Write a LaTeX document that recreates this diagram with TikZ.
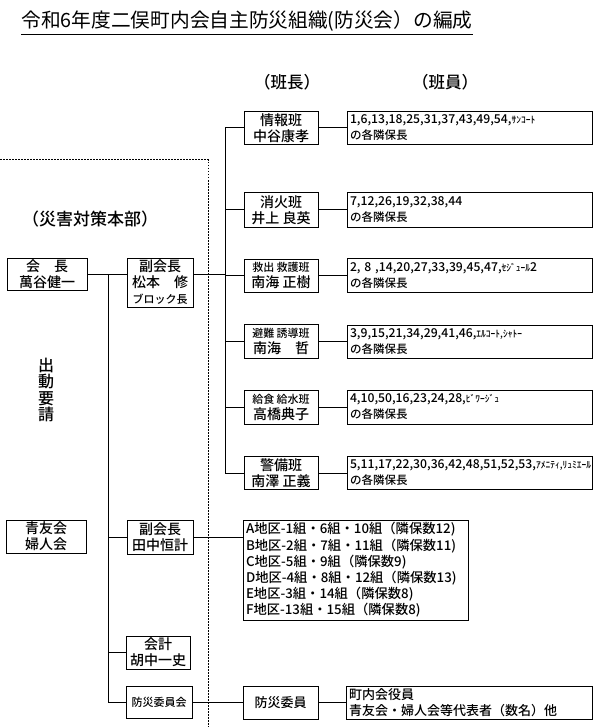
\documentclass[tikz,border=0pt]{standalone}
\usepackage{fontspec}
\newfontfamily\jp{Noto Sans CJK JP}[BoldFont={Noto Sans CJK JP Medium}]
\newcommand{\smtxt}{\fontsize{11}{16}\selectfont}
\newcommand{\numtxt}{\fontsize{12.2}{16}\selectfont}
\newcommand{\kanatxt}{\fontsize{9.5}{16}\selectfont}
\tikzset{
  hbox/.style={draw, line width=1pt, inner sep=0pt, align=center, minimum width=74pt, minimum height=33pt, font=\jp\bfseries\fontsize{14}{16}\selectfont},
  mbox/.style={draw, line width=1pt, inner xsep=3pt, inner ysep=0pt, align=left, text width=239pt, minimum height=33pt, font=\jp\bfseries\fontsize{11.5}{16}\selectfont},
  lbl/.style={inner sep=0pt, font=\jp\bfseries\fontsize{16.5}{18}\selectfont},
  conn/.style={line width=1pt},
}
\begin{document}
\begin{tikzpicture}[x=1pt,y=-1pt]
\useasboundingbox (0,0) rectangle (600,727);
\node[inner sep=0pt, font=\jp\fontsize{19.7}{22}\selectfont] (title) at (247,21) {令和6年度二俣町内会自主防災組織(防災会）の編成};
\draw[line width=0.8pt] ([yshift=-3pt]title.south west) -- ([yshift=-3pt]title.south east);
\node[lbl] (hancho) at (287,82) {（班長）};
\node[lbl] (hanin) at (445,82) {（班員）};
\node[lbl, font=\jp\bfseries\fontsize{17}{19}\selectfont] (honbu) at (90,219) {（災害対策本部）};
\node[lbl, align=center, font=\jp\bfseries\fontsize{16}{16.5}\selectfont] (yosei) at (46,390) {出\\動\\要\\請};
\draw[line width=1pt, dash pattern=on 1.5pt off 1.5pt] (0,160) -- (208,160) -- (208,727);

\node[hbox] (joho) at (281,128) {情報班\\中谷康孝};
\node[hbox, minimum height=34pt] (shoka) at (281,210) {消火班\\井上 良英};
\node[hbox] (kyushutsu) at (281,275.5) {{\smtxt 救出 救護班}\\南海 正樹};
\node[hbox, minimum height=34pt] (hinan) at (281,341.5) {{\smtxt 避難 誘導班}\\南海　哲};
\node[hbox, minimum height=34pt] (kyushoku) at (281,407) {{\smtxt 給食 給水班}\\高橋典子};
\node[hbox] (keibi) at (281,473) {警備班\\南澤 正義};

\node[mbox] (joho-m) at (469.5,128) {{\numtxt 1,6,13,18,25,31,37,43,49,54,}{\kanatxt ｻﾝｺｰﾄ}\\の各隣保長};
\node[mbox, minimum height=34pt] (shoka-m) at (469.5,210) {{\numtxt 7,12,26,19,32,38,44}\\の各隣保長};
\node[mbox, minimum height=34pt] (kyushutsu-m) at (469.5,275.5) {{\numtxt 2, 8 ,14,20,27,33,39,45,47,}{\kanatxt ｾｼﾞｭｰﾙ}{\numtxt 2}\\の各隣保長};
\node[mbox] (hinan-m) at (469.5,341.5) {{\numtxt 3,9,15,21,34,29,41,46,}{\kanatxt ｴﾙｺｰﾄ,ｼｬﾄｰ}\\の各隣保長};
\node[mbox, minimum height=34pt] (kyushoku-m) at (469.5,407) {{\numtxt 4,10,50,16,23,24,28,}{\kanatxt ﾋﾞﾜｰｼﾞｭ}\\の各隣保長};
\node[mbox] (keibi-m) at (469.5,473) {{\numtxt 5,11,17,22,30,36,42,48,51,52,53,}{\kanatxt ｱﾒﾆﾃｨ,ﾘｭﾐｴｰﾙ}\\の各隣保長};

\node[hbox, minimum width=80pt, minimum height=32pt] (kaicho) at (47,274) {会　長\\萬谷健一};
\node[hbox, minimum width=66pt, minimum height=49pt] (matsumoto) at (160,282.5) {副会長\\松本　修\\{\smtxt ブロック長}};
\node[hbox, minimum width=80pt] (seiyu) at (46,536.5) {青友会\\婦人会};
\node[hbox, minimum width=66pt, minimum height=34pt] (tanaka) at (160,537) {副会長\\田中恒計};
\node[draw, line width=1pt, inner xsep=3pt, inner ysep=0pt, align=left, text width=219pt, minimum height=100pt, font=\jp\bfseries\fontsize{13.3}{16.2}\selectfont] (chiku) at (355.5,570) {A地区-1組・6組・10組（隣保数12)\\B地区-2組・7組・11組（隣保数11)\\C地区-5組・9組（隣保数9)\\D地区-4組・8組・12組（隣保数13)\\E地区-3組・14組（隣保数8)\\F地区-13組・15組（隣保数8)};
\node[hbox, minimum width=64pt] (kaikei) at (158,652.5) {会計\\胡中一史};
\node[hbox, minimum width=66pt, minimum height=32pt, font=\jp\bfseries\fontsize{11}{16}\selectfont] (bosaikai) at (159,702.5) {防災委員会};
\node[hbox, minimum width=75pt, font=\jp\bfseries\fontsize{13}{16}\selectfont] (iin) at (280.5,702.5) {防災委員};
\node[mbox, text width=240pt, font=\jp\bfseries\fontsize{13}{16}\selectfont] (yakuin) at (469,702.5) {町内会役員\\青友会・婦人会等代表者（数名）他};

\coordinate (spine) at (225,0);
\coordinate (lspine) at (108,0);
\draw[conn] (joho.west -| spine) -- (keibi.west -| spine);
\foreach \h in {joho,shoka,kyushutsu,hinan,kyushoku,keibi} {
  \draw[conn] (\h.west -| spine) -- (\h.west);
  \draw[conn] (\h.east) -- (\h-m.west);
}
\draw[conn] (kaicho.east) -- (kaicho.east -| matsumoto.west);
\draw[conn] (kaicho.east -| matsumoto.east) -- (kaicho.east -| spine);
\draw[conn] (kaicho.east -| lspine) -- (bosaikai.west -| lspine);
\foreach \b in {tanaka,kaikei,bosaikai} \draw[conn] (\b.west -| lspine) -- (\b.west);
\draw[conn] (tanaka.east) -- (tanaka.east -| chiku.west);
\draw[conn] (bosaikai.east) -- (iin.west);
\draw[conn] (iin.east) -- (yakuin.west);
\end{tikzpicture}
\end{document}
